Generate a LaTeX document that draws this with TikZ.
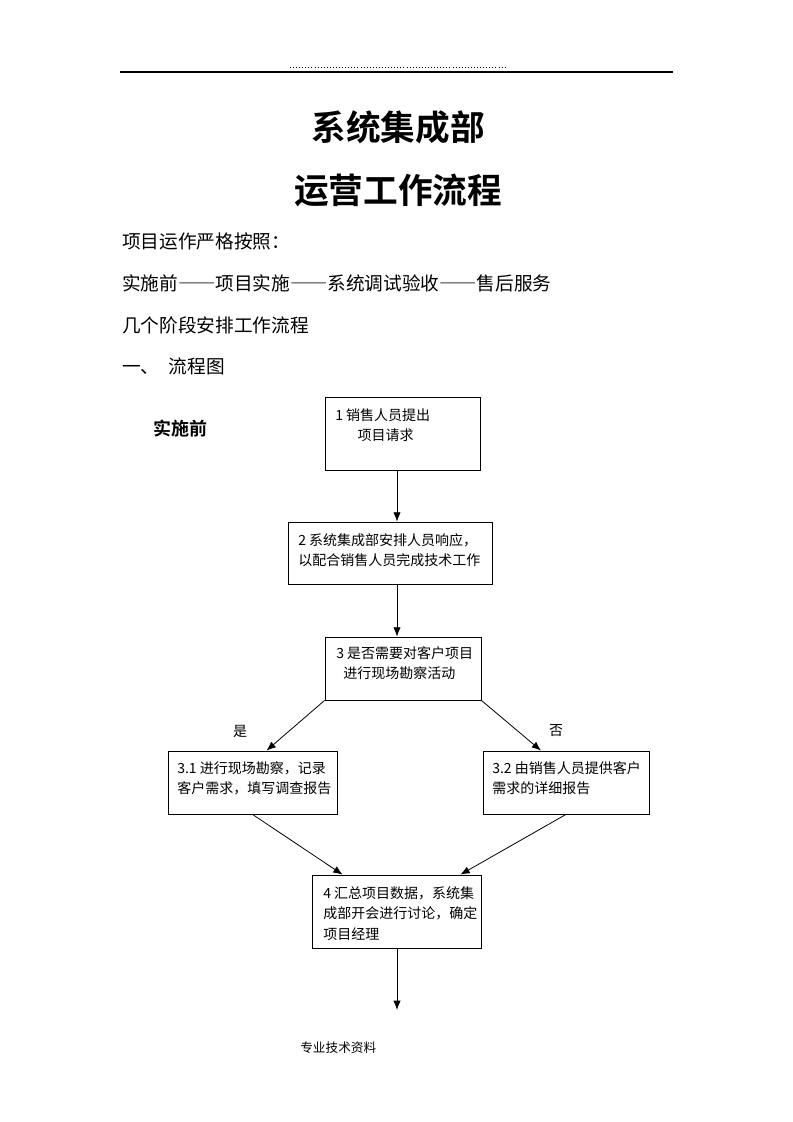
\documentclass[tikz,border=0pt]{standalone}
\usepackage{fontspec}
\setmainfont{Noto Sans CJK SC}[BoldFont={Noto Sans CJK SC Bold}]
\usetikzlibrary{arrows.meta,fit,calc}
\newcommand{\longdash}{{\addfontfeature{RawFeature=+fwid}——}}

\begin{document}
\begin{tikzpicture}[x=0.75pt,y=-0.75pt,
        box/.style={draw, line width=0.6pt, inner sep=0pt},
        boxtext/.style={anchor=north west, inner sep=0pt, align=left,
            font={\fontsize{10.5pt}{15.4pt}\selectfont}},
        bodytext/.style={anchor=west, inner sep=0pt,
            font={\fontsize{14pt}{17pt}\selectfont}},
        flow/.style={-{Latex[length=7pt,width=5.5pt]}, line width=0.6pt}]
    \useasboundingbox (0,0) rectangle (793,1122);

    % page header
    \draw[line width=0.9pt] (120,72) -- (673,72);
    \draw[line width=0.7pt, dash pattern=on 0.7pt off 1.6pt] (290,67) -- (505,67);

    % titles
    \node[font={\fontsize{26pt}{30pt}\selectfont\bfseries}] (title1) at (398,127) {系统集成部};
    \node[font={\fontsize{26pt}{30pt}\selectfont\bfseries}] (title2) at (398,190) {运营工作流程};

    \node[bodytext] (line1) at (122,241) {项目运作严格按照：};
    \node[bodytext] (line2) at (122,283) {实施前\longdash 项目实施\longdash 系统调试验收\longdash 售后服务};
    \node[bodytext] (line3) at (122,325) {几个阶段安排工作流程};
    \node[bodytext] (line4) at (122,366) {一、\hspace{7pt}流程图};

    \node[anchor=west, inner sep=0pt, font={\fontsize{13.5pt}{16pt}\selectfont\bfseries}] (stage) at (153,429) {实施前};

    % boxes
    \node[box, fit={(325,397) (480,470)}] (b1) {};
    \node[box, fit={(288,522) (492,584)}] (b2) {};
    \node[box, fit={(325,637) (481,700)}] (b3) {};
    \node[box, fit={(168,751) (337,814)}] (b31) {};
    \node[box, fit={(483,751) (649,814)}] (b32) {};
    \node[box, fit={(312,875) (481,948)}] (b4) {};

    \node[boxtext] (t1) at (335,408) {1 销售人员提出\\\hspace{1.6em}项目请求};
    \node[boxtext] (t2) at (298,533) {2 系统集成部安排人员响应，\\以配合销售人员完成技术工作};
    \node[boxtext] (t3) at (336,646) {3 是否需要对客户项目\\\hspace{0.5em}进行现场勘察活动};
    \node[boxtext] (t31) at (177,761) {3.1 进行现场勘察，记录\\客户需求，填写调查报告};
    \node[boxtext] (t32) at (492,761) {3.2 由销售人员提供客户\\需求的详细报告};
    \node[boxtext] (t4) at (323,886) {4 汇总项目数据，系统集\\成部开会进行讨论，确定\\项目经理};

    \node[font={\fontsize{10.5pt}{12pt}\selectfont}] (yes) at (240,731) {是};
    \node[font={\fontsize{10.5pt}{12pt}\selectfont}] (no) at (556,731) {否};

    % connectors
    \coordinate (axis) at (397,0);
    \coordinate (next) at (397,1010);
    \draw[flow] (b1.south -| axis) -- (b2.north -| axis);
    \draw[flow] (b2.south -| axis) -- (b3.north -| axis);
    \draw[flow] (b3.south west) -- ($(b31.north)+(14,0)$);
    \draw[flow] (b3.south east) -- ($(b32.north)+(-25,0)$);
    \draw[flow] (b31.south) -- ($(b4.north west)+(31,0)$);
    \draw[flow] (b32.south) -- ($(b4.north east)+(-21,0)$);
    \draw[flow] (b4.south -| axis) -- (next);

    % footer
    \node[anchor=west, inner sep=0pt, font={\fontsize{9.5pt}{11pt}\selectfont}] (foot) at (300,1048) {专业技术资料};
\end{tikzpicture}
\end{document}
